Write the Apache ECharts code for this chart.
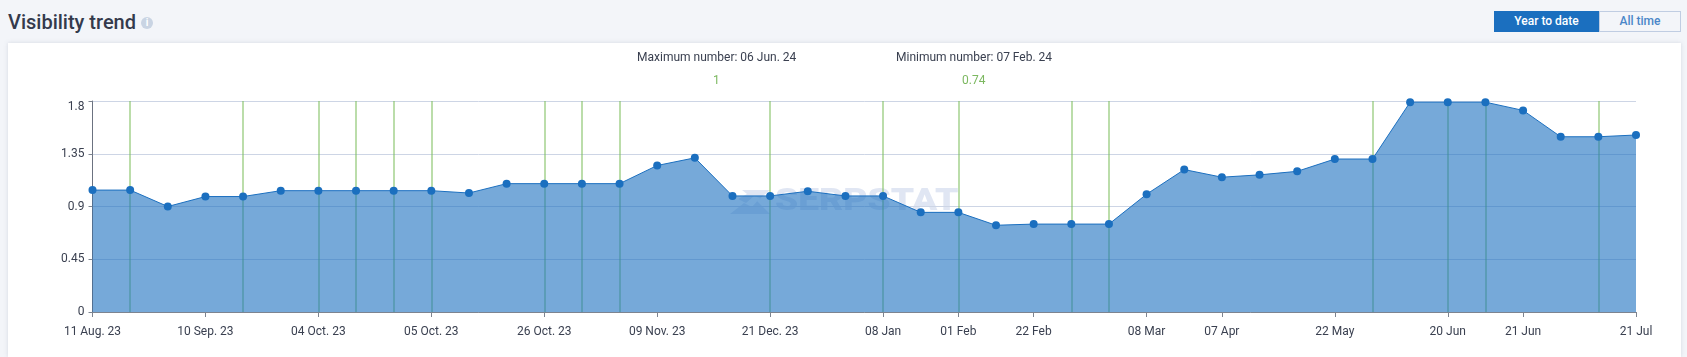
<!DOCTYPE html>
<html>
<head>
<meta charset="utf-8">
<script src="https://cdn.jsdelivr.net/npm/echarts@6/dist/echarts.min.js"></script>
<style>
html, body { margin: 0; padding: 0; background: #f3f5f9; font-family: Roboto, sans-serif; }
body { position: relative; width: 1687px; height: 357px; overflow: hidden; }
.title { position: absolute; left: 8px; top: 8px; font-size: 20px; line-height: 28px; font-weight: 500; color: #343a4c; }
.info { position: absolute; left: 141px; top: 17px; width: 12px; height: 12px; border-radius: 50%; background: #c9d4e3; color: #fff; font-size: 10px; line-height: 12px; text-align: center; font-weight: 700; }
.switch { position: absolute; left: 1494px; top: 11px; height: 21px; display: flex; font-size: 12px; font-weight: 500; }
.switch div { box-sizing: border-box; height: 21px; line-height: 19px; text-align: center; }
.on { width: 105px; background: #1b6fbf; color: #fff; border: 1px solid #1b6fbf; }
.off { width: 82px; background: #f3f5f9; color: #4a86c8; border: 1px solid #c0cde2; }
.card { position: absolute; left: 8px; top: 43px; width: 1673px; height: 314px; background: #fff; box-shadow: 0 0 4px rgba(120, 135, 160, .25); }
#chart { position: absolute; left: 0; top: 0; width: 1687px; height: 357px; }
</style>
</head>
<body>
<div class="title">Visibility trend</div>
<div class="info">i</div>
<div class="switch"><div class="on">Year to date</div><div class="off">All time</div></div>
<div class="card"></div>
<div id="chart"></div>
<script>
var xLabels = ['11 Aug. 23', '', '', '10 Sep. 23', '', '', '04 Oct. 23', '', '', '05 Oct. 23', '', '', '26 Oct. 23', '', '',
  '09 Nov. 23', '', '', '21 Dec. 23', '', '', '08 Jan', '', '01 Feb', '', '22 Feb', '', '', '08 Mar', '', '07 Apr', '', '',
  '22 May', '', '', '20 Jun', '', '21 Jun', '', '', '21 Jul'];
var visibility = [1.04, 1.04, 0.9, 0.985, 0.985, 1.035, 1.035, 1.035, 1.035, 1.035, 1.015, 1.095, 1.095, 1.095, 1.095,
  1.25, 1.315, 0.99, 0.99, 1.03, 0.99, 0.99, 0.85, 0.85, 0.74, 0.75, 0.75, 0.75, 1.005, 1.215,
  1.15, 1.17, 1.2, 1.305, 1.305, 1.79, 1.79, 1.79, 1.72, 1.495, 1.495, 1.51];
var eventIndexes = [1, 4, 6, 7, 8, 9, 12, 13, 14, 18, 21, 23, 26, 27, 34, 36, 37, 40];
var yMax = 1.8;
var yStep = 0.45;

var chart = echarts.init(document.getElementById('chart'));

function hasLabel(index, value) {
  return value !== '';
}

chart.setOption({
  animation: false,
  textStyle: {fontFamily: 'Roboto'},
  grid: {left: 92.5, right: 51, top: 101, bottom: 45},
  graphic: [
    {type: 'text', left: 637, top: 52, style: {text: 'Maximum number: 06 Jun. 24', font: '12px Roboto', fill: '#3a4050'}},
    {type: 'text', left: 713, top: 75, style: {text: '1', font: '12px Roboto', fill: '#7cb860'}},
    {type: 'text', left: 896, top: 52, style: {text: 'Minimum number: 07 Feb. 24', font: '12px Roboto', fill: '#3a4050'}},
    {type: 'text', left: 962, top: 75, style: {text: '0.74', font: '12px Roboto', fill: '#7cb860'}},
    // watermark
    {type: 'text', x: 775, y: 186, z: -1, scaleX: 1.16, style: {text: 'SERPSTAT', font: '900 32px Roboto', fill: '#e0e6f3'}},
    {type: 'polygon', z: -1, shape: {points: [[742, 190], [770, 190], [757, 201], [770, 214], [730, 214], [744, 203], [752, 207], [760, 198], [754, 196], [746, 203], [738, 199], [747, 194]]}, style: {fill: '#e0e6f3'}}
  ],
  xAxis: {
    type: 'category',
    boundaryGap: false,
    data: xLabels,
    axisLine: {lineStyle: {color: '#7d8490', width: 1}},
    axisTick: {interval: hasLabel, length: 5, lineStyle: {color: '#7d8490'}},
    axisLabel: {interval: hasLabel, color: '#3a4050', fontSize: 12, margin: 14, hideOverlap: false, showMinLabel: true, showMaxLabel: true},
    splitLine: {show: false}
  },
  yAxis: {
    type: 'value',
    min: 0,
    max: yMax,
    interval: yStep,
    axisLine: {show: true, lineStyle: {color: '#6b7280'}},
    axisTick: {show: true, length: 4, lineStyle: {color: '#7d8490'}},
    axisLabel: {color: '#3a4050', fontSize: 12, margin: 8, verticalAlignMaxLabel: 'top'},
    splitLine: {lineStyle: {color: '#cdd5e5', width: 1}}
  },
  series: [{
    type: 'line',
    z: 3,
    data: visibility,
    symbol: 'circle',
    symbolSize: 8,
    showSymbol: true,
    clip: false,
    lineStyle: {color: '#1b6fbf', width: 1},
    itemStyle: {color: '#1b6fbf'},
    areaStyle: {color: '#1b6fbf', opacity: 0.6},
    markLine: {
      // z below the series so the green lines stay under the translucent area
      z: 1,
      silent: true,
      symbol: 'none',
      label: {show: false},
      lineStyle: {type: 'solid', color: '#7fbf5e', width: 1.5, opacity: 0.7},
      data: eventIndexes.map(function (i) { return {xAxis: i}; })
    }
  }]
});
</script>
</body>
</html>
